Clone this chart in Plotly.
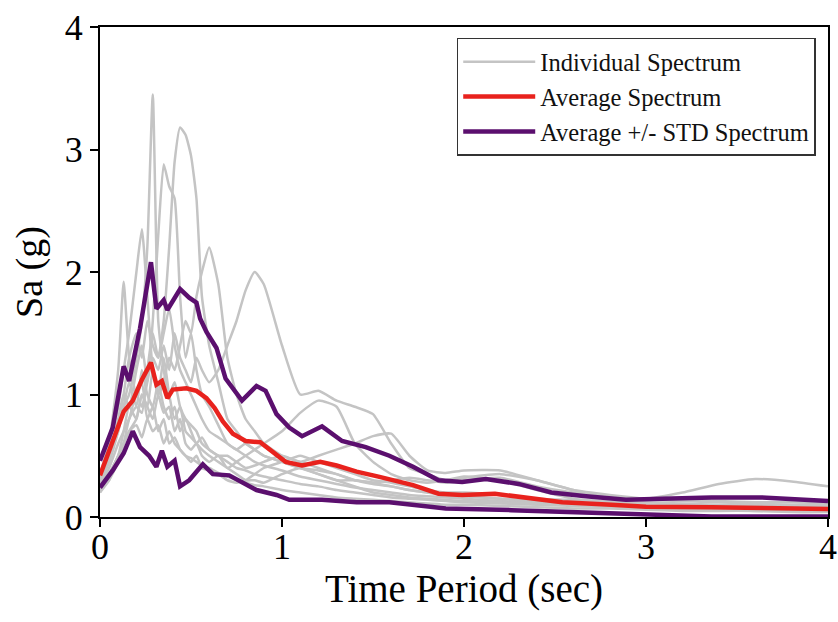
import plotly.graph_objects as go

# ---------------- data ----------------
period_grid = [0, 0.05, 0.1, 0.13, 0.16, 0.2, 0.23, 0.26, 0.29, 0.32, 0.35, 0.38, 0.41, 0.44,
               0.47, 0.5, 0.53, 0.56, 0.6, 0.65, 0.7, 0.75, 0.8, 0.85, 0.9, 1.0, 1.1, 1.2, 1.3,
               1.4, 1.5, 1.6, 1.7, 1.8, 1.9, 2.0, 2.2, 2.4, 2.6, 2.8, 3.0, 3.2, 3.4, 3.6, 3.8, 4.0]

rec1 = [0.30, 0.45, 0.70, 0.90, 1.00, 1.30, 1.60, 2.20, 3.45, 1.60, 1.20, 1.00, 1.10, 0.90,
        0.80, 0.75, 0.70, 0.60, 0.55, 0.50, 0.45, 0.40, 0.38, 0.35, 0.33, 0.30, 0.27, 0.25, 0.22,
        0.20, 0.18, 0.16, 0.15, 0.14, 0.13, 0.12, 0.11, 0.10, 0.09, 0.08, 0.07, 0.06, 0.06, 0.05, 0.05, 0.05]
rec2 = [0.25, 0.35, 0.50, 0.60, 0.80, 0.90, 0.85, 1.20, 1.50, 1.30, 1.60, 2.20, 2.90, 3.18,
        3.12, 2.95, 2.60, 1.80, 1.40, 1.10, 0.80, 0.70, 0.60, 0.55, 0.50, 0.45, 0.40, 0.38, 0.35,
        0.30, 0.27, 0.25, 0.22, 0.20, 0.18, 0.17, 0.15, 0.13, 0.12, 0.11, 0.10, 0.09, 0.09, 0.08, 0.08, 0.07]
rec3 = [0.30, 0.50, 0.80, 1.00, 0.90, 1.20, 1.40, 1.10, 1.60, 2.30, 2.88, 2.70, 2.60, 1.80,
        1.30, 1.50, 1.20, 1.00, 0.90, 0.75, 0.60, 0.55, 0.50, 0.45, 0.42, 0.38, 0.33, 0.30, 0.27,
        0.24, 0.22, 0.20, 0.18, 0.17, 0.16, 0.15, 0.13, 0.12, 0.11, 0.10, 0.09, 0.08, 0.08, 0.07, 0.07, 0.06]
rec4 = [0.35, 0.60, 0.90, 1.20, 1.50, 2.00, 2.35, 1.80, 1.20, 1.00, 1.30, 1.00, 0.80, 0.90,
        0.70, 0.65, 0.60, 0.55, 0.50, 0.45, 0.40, 0.35, 0.30, 0.30, 0.28, 0.35, 0.40, 0.35, 0.30,
        0.25, 0.20, 0.18, 0.16, 0.15, 0.14, 0.13, 0.12, 0.11, 0.10, 0.09, 0.08, 0.07, 0.07, 0.06, 0.06, 0.06]
rec5 = [0.30, 0.60, 1.20, 1.92, 1.30, 1.00, 1.10, 0.80, 0.90, 0.70, 0.80, 0.60, 0.65, 0.55,
        0.50, 0.48, 0.45, 0.42, 0.40, 0.36, 0.33, 0.30, 0.28, 0.26, 0.25, 0.22, 0.20, 0.18, 0.16,
        0.15, 0.14, 0.13, 0.12, 0.11, 0.10, 0.10, 0.09, 0.08, 0.07, 0.07, 0.06, 0.05, 0.05, 0.05, 0.04, 0.04]
rec6 = [0.20, 0.30, 0.50, 0.60, 0.70, 0.80, 1.00, 0.90, 1.20, 1.00, 1.10, 1.30, 1.20, 1.40,
        1.60, 1.50, 1.80, 2.00, 2.20, 1.90, 1.30, 1.00, 0.80, 0.70, 0.60, 0.50, 0.45, 0.40, 0.35,
        0.30, 0.28, 0.25, 0.22, 0.20, 0.18, 0.17, 0.15, 0.13, 0.12, 0.11, 0.10, 0.09, 0.09, 0.08, 0.08, 0.08]
rec7 = [0.25, 0.40, 0.60, 0.70, 0.80, 1.00, 0.90, 1.10, 1.30, 1.20, 1.40, 1.20, 1.50, 1.30,
        1.20, 1.10, 1.30, 1.20, 1.10, 1.20, 1.40, 1.60, 1.85, 2.00, 1.90, 1.40, 1.00, 1.03, 0.95,
        0.90, 0.84, 0.60, 0.40, 0.35, 0.30, 0.32, 0.35, 0.30, 0.22, 0.18, 0.15, 0.14, 0.13, 0.12, 0.12, 0.11]
rec8 = [0.20, 0.35, 0.50, 0.70, 0.90, 0.80, 1.00, 0.90, 0.80, 1.00, 0.85, 0.90, 0.70, 0.80,
        0.60, 0.55, 0.60, 0.50, 0.45, 0.50, 0.40, 0.45, 0.50, 0.55, 0.60, 0.70, 0.85, 0.95, 0.90,
        0.60, 0.45, 0.35, 0.30, 0.28, 0.30, 0.33, 0.30, 0.22, 0.15, 0.12, 0.10, 0.10, 0.09, 0.08, 0.08, 0.07]
rec9 = [0.30, 0.50, 0.70, 0.90, 1.10, 0.90, 1.20, 1.00, 0.90, 1.10, 0.90, 0.80, 0.90, 0.70,
        0.80, 0.70, 0.60, 0.65, 0.55, 0.50, 0.50, 0.45, 0.40, 0.42, 0.45, 0.50, 0.45, 0.50, 0.55,
        0.60, 0.66, 0.68, 0.50, 0.38, 0.36, 0.38, 0.38, 0.30, 0.22, 0.16, 0.15, 0.20, 0.27, 0.31, 0.29, 0.25]
rec10 = [0.22, 0.30, 0.45, 0.60, 0.70, 0.75, 0.65, 0.80, 0.70, 0.75, 0.60, 0.70, 0.60, 0.55,
         0.50, 0.45, 0.50, 0.40, 0.38, 0.35, 0.30, 0.28, 0.30, 0.35, 0.40, 0.45, 0.50, 0.45, 0.40,
         0.35, 0.30, 0.28, 0.25, 0.22, 0.20, 0.20, 0.18, 0.15, 0.14, 0.13, 0.12, 0.11, 0.10, 0.10, 0.09, 0.09]
rec11 = [0.28, 0.45, 0.75, 1.00, 1.30, 1.50, 1.30, 1.60, 1.40, 1.30, 1.50, 1.70, 1.40, 1.20,
         1.10, 1.00, 0.90, 0.80, 0.70, 0.65, 0.60, 0.55, 0.60, 0.55, 0.50, 0.45, 0.40, 0.35, 0.30,
         0.30, 0.28, 0.30, 0.32, 0.30, 0.28, 0.30, 0.32, 0.25, 0.20, 0.16, 0.14, 0.13, 0.12, 0.11, 0.10, 0.10]
individual_records = [rec1, rec2, rec3, rec4, rec5, rec6, rec7, rec8, rec9, rec10, rec11]

period_avg = [0.0, 0.07, 0.13, 0.18, 0.23, 0.28, 0.31, 0.34, 0.37, 0.40, 0.475, 0.53, 0.585, 0.63,
              0.675, 0.73, 0.80, 0.88, 0.94, 1.02, 1.11, 1.21, 1.30, 1.41, 1.53, 1.72, 1.86, 1.99,
              2.17, 2.36, 2.54, 2.81, 3.0, 3.36, 3.73, 4.0]
sa_avg = [0.34, 0.62, 0.86, 0.95, 1.12, 1.26, 1.08, 1.11, 0.97, 1.04, 1.05, 1.03, 0.97, 0.89,
          0.78, 0.68, 0.62, 0.61, 0.54, 0.45, 0.42, 0.45, 0.42, 0.37, 0.33, 0.26, 0.19, 0.18,
          0.19, 0.15, 0.12, 0.10, 0.083, 0.08, 0.07, 0.065]

period_upper = [0.0, 0.07, 0.13, 0.16, 0.22, 0.28, 0.31, 0.35, 0.37, 0.44, 0.49, 0.53, 0.55, 0.585,
                0.64, 0.69, 0.78, 0.86, 0.91, 0.97, 1.04, 1.11, 1.22, 1.33, 1.46, 1.59, 1.72, 1.86,
                1.99, 2.12, 2.30, 2.48, 2.67, 2.89, 3.09, 3.36, 3.63, 4.0]
sa_upper = [0.46, 0.73, 1.23, 1.11, 1.54, 2.08, 1.70, 1.77, 1.69, 1.86, 1.79, 1.75, 1.62, 1.51,
            1.38, 1.13, 0.95, 1.07, 1.03, 0.84, 0.73, 0.66, 0.74, 0.62, 0.57, 0.50, 0.41, 0.30,
            0.285, 0.31, 0.27, 0.20, 0.17, 0.14, 0.15, 0.16, 0.16, 0.13]

period_lower = [0.0, 0.07, 0.13, 0.18, 0.22, 0.27, 0.31, 0.34, 0.37, 0.41, 0.44, 0.49, 0.565, 0.62,
                0.71, 0.78, 0.86, 0.97, 1.04, 1.22, 1.41, 1.59, 1.90, 2.26, 2.63, 3.0, 3.36, 3.73, 4.0]
sa_lower = [0.24, 0.38, 0.52, 0.70, 0.57, 0.50, 0.41, 0.54, 0.41, 0.46, 0.25, 0.30, 0.43, 0.35,
            0.34, 0.285, 0.22, 0.18, 0.14, 0.14, 0.12, 0.12, 0.07, 0.056, 0.04, 0.016, 0.004, 0.004, 0.004]

x_ticks = [0, 1, 2, 3, 4]
y_ticks = [0, 1, 2, 3, 4]

# ---------------- figure ----------------
GREY = "#c4c4c4"
RED = "#e8221d"
PURPLE = "#5b0f6e"
FONT = "Times New Roman, Liberation Serif, serif"

fig = go.Figure()
for i, rec in enumerate(individual_records):
    fig.add_trace(go.Scatter(
        x=period_grid, y=rec, mode="lines",
        line=dict(color=GREY, width=2.5, shape="spline", smoothing=0.5),
        name="Individual Spectrum", legendgroup="ind",
        showlegend=(i == 0)))

fig.add_trace(go.Scatter(x=period_avg, y=sa_avg, mode="lines",
                         line=dict(color=RED, width=4.5), name="Average Spectrum"))
fig.add_trace(go.Scatter(x=period_upper, y=sa_upper, mode="lines",
                         line=dict(color=PURPLE, width=4.5),
                         name="Average +/- STD Spectrum", legendgroup="std"))
fig.add_trace(go.Scatter(x=period_lower, y=sa_lower, mode="lines",
                         line=dict(color=PURPLE, width=4.5),
                         name="Average +/- STD Spectrum", legendgroup="std", showlegend=False))

fig.update_layout(
    width=838, height=622,
    margin=dict(l=100, r=8, t=22, b=105),
    paper_bgcolor="white", plot_bgcolor="white",
    font=dict(family=FONT, color="black"),
    showlegend=True,
    legend=dict(x=0.49, y=0.978, xanchor="left", yanchor="top",
                bgcolor="white", bordercolor="#333333", borderwidth=1.5,
                font=dict(family=FONT, size=24.5, color="#111111"),
                itemwidth=72, tracegroupgap=0),
)
fig.update_xaxes(range=[0, 4], tickvals=x_ticks, ticktext=[str(v) for v in x_ticks],
                 showgrid=False, zeroline=False, automargin=False,
                 ticklabeloverflow="allow", ticklabelstandoff=-11,
                 showline=True, linecolor="black", linewidth=2, mirror=True,
                 ticks="outside", ticklen=8, tickwidth=1.5, tickcolor="black",
                 tickfont=dict(family=FONT, size=36),
                 title=dict(text="Time Period (sec)", font=dict(family=FONT, size=39), standoff=2))
fig.update_yaxes(range=[0, 4], tickvals=y_ticks, ticktext=[str(v) for v in y_ticks],
                 showgrid=False, zeroline=False,
                 showline=True, linecolor="black", linewidth=2, mirror=True,
                 ticks="outside", ticklen=8, tickwidth=1.5, tickcolor="black",
                 tickfont=dict(family=FONT, size=36),
                 title=dict(text="Sa (g)", font=dict(family=FONT, size=38), standoff=10))

fig.write_html("out.html")
